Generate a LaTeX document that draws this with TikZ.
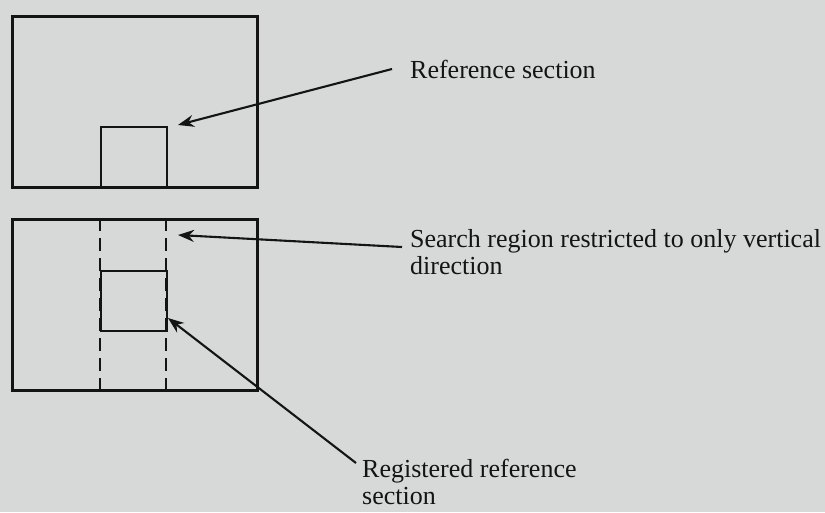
\documentclass[tikz,border=0pt]{standalone}
\usepackage{fontspec}
\setmainfont{Liberation Serif}
\usetikzlibrary{arrows.meta}
\definecolor{paper}{RGB}{215,217,217}
\definecolor{ink}{RGB}{20,20,20}
\tikzset{
  frame/.style={draw=ink, line width=2.6pt, minimum width=245pt, minimum height=171pt,
    anchor=north west, inner sep=0pt},
  window/.style={draw=ink, line width=2.4pt, anchor=north west, inner sep=0pt,
    minimum width=66pt},
  guide/.style={draw=ink, line width=2.4pt, dash pattern=on 13pt off 7pt},
  pointer/.style={draw=ink, line width=2.1pt, -{Stealth[length=16pt,width=12pt]}},
  label/.style={anchor=base west, inner sep=0pt, text=ink, font=\fontsize{26}{27}\selectfont,
    align=left}
}
\begin{document}
\begin{tikzpicture}[x=1pt,y=-1pt]
  \fill[paper] (0,0) rectangle (825,512);
  \useasboundingbox (0,0) rectangle (825,512);

  % reference image with its section
  \node[frame] (img1) at (11,15) {};
  \node[window, minimum height=60pt] (sec) at (100,126) {};

  % search image: vertical search strip and registered section
  \node[frame] (img2) at (11,218) {};
  \draw[guide] (100,218) -- (100,389);
  \draw[guide] (166,218) -- (166,389);
  \node[window, minimum height=60pt] (reg) at (100,270) {};

  % labels (base west sits on the last line of a two-line label)
  \node[label] (lref) at (410,78) {Reference section};
  \node[label] (lsearch) at (410,274) {Search region restricted to only vertical\\direction};
  \node[label] (lreg) at (362,504) {Registered reference\\section};

  \coordinate (t1) at (178,125);
  \coordinate (t2) at (178,235);
  \coordinate (t3) at (168,318);
  \coordinate (s1) at (392,69);
  \coordinate (s2) at (402,247);
  \coordinate (s3) at (356,463);

  \draw[pointer] (s1) -- (t1);
  \draw[pointer] (s2) -- (t2);
  \draw[pointer] (s3) -- (t3);
\end{tikzpicture}
\end{document}
